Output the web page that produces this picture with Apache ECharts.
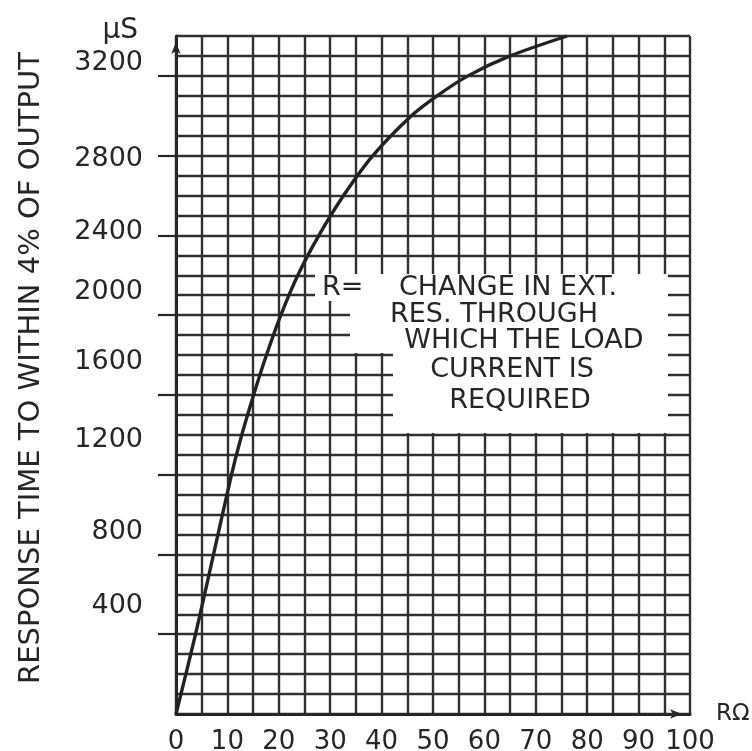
<!DOCTYPE html>
<html><head><meta charset="utf-8">
<script src="https://cdn.jsdelivr.net/npm/echarts@6/dist/echarts.min.js"></script>
<style>html,body{margin:0;padding:0;background:#fff}#c{width:752px;height:751px}</style>
</head><body><div id="c"></div>
<script>
// ---- data ----
const rOhm   = [0, 3.8, 7.3, 10.8, 12.8, 15.1, 17.6, 20.4, 23.7, 27.8, 32.6, 38.3, 45.8, 50.8, 56.8, 65.0, 76.1];
const respUs = [0, 400, 800, 1200, 1400, 1600, 1800, 2000, 2200, 2400, 2600, 2800, 3000, 3100, 3200, 3300, 3400];
const xTickLabels = [0, 10, 20, 30, 40, 50, 60, 70, 80, 90, 100];
const yTickLabels = [400, 800, 1200, 1600, 2000, 2400, 2800, 3200];
const yAxisTitle = 'RESPONSE TIME TO WITHIN 4% OF OUTPUT';
const yUnit = 'µS';
const xUnit = 'RΩ';
const noteLines = ['CHANGE IN EXT.', 'RES. THROUGH', 'WHICH THE LOAD', 'CURRENT IS', 'REQUIRED'];
const notePrefix = 'R=';

// ---- styling ----
const FONT = 'DejaVu Sans';
const INK = '#262626';
const GRIDC = '#303030';
// vertical lift (px) of each y label above its tick, as in the hand-lettered original
const labelLift = {400: 28, 800: 22, 1200: 35, 1600: 33, 2000: 23, 2400: 3, 2800: -3, 3200: 13};
const rich = {};
yTickLabels.forEach(v => {
  const l = labelLift[v] || 0;
  rich['y' + v] = {
    fontFamily: FONT, fontSize: 27, color: INK,
    padding: l >= 0 ? [0, 0, 2 * l, 0] : [-2 * l, 0, 0, 0]
  };
});
const noteFont = '27px "' + FONT + '"';

const chart = echarts.init(document.getElementById('c'), null, {renderer: 'canvas'});
chart.setOption({
  backgroundColor: '#ffffff',
  animation: false,
  grid: {left: 176, right: 62, top: 36, bottom: 37, containLabel: false, outerBoundsMode: 'none'},
  xAxis: {
    type: 'value', min: 0, max: 100, interval: 5,
    name: xUnit, nameLocation: 'end', nameGap: 26,
    nameTextStyle: {fontFamily: FONT, fontSize: 23, color: INK, verticalAlign: 'middle', padding: [0, 0, 22, 0]},
    axisLine: {show: true, lineStyle: {color: INK, width: 3}, symbol: ['none', 'arrow'], symbolSize: [7, 12], symbolOffset: [0, -8]},
    axisTick: {show: false},
    splitLine: {show: true, lineStyle: {color: GRIDC, width: 2.4}},
    axisLabel: {
      customValues: xTickLabels, margin: 15,
      fontFamily: FONT, fontSize: 26, color: INK,
      formatter: v => String(v)
    }
  },
  yAxis: [{
    type: 'value', min: 0, max: 3400, interval: 100,
    name: yUnit, nameLocation: 'end', nameGap: 5,
    nameTextStyle: {fontFamily: FONT, fontSize: 28, color: INK, align: 'right', verticalAlign: 'middle', padding: [0, 38, 0, 0]},
    axisLine: {show: true, lineStyle: {color: INK, width: 3}, symbol: ['none', 'arrow'], symbolSize: [7, 12], symbolOffset: [0, -6]},
    axisTick: {show: true, inside: false, length: 18, customValues: yTickLabels, lineStyle: {color: INK, width: 2.2}},
    splitLine: {show: false},
    axisLabel: {
      customValues: yTickLabels, margin: 33,
      fontFamily: FONT, fontSize: 27, color: INK,
      formatter: v => '{y' + v + '|' + v + '}',
      rich: rich
    }
  }, {
    // same scale, used only to draw the 100 µs grid rulings
    type: 'value', min: 0, max: 3400, interval: 100, position: 'left',
    axisLine: {show: false}, axisTick: {show: false}, axisLabel: {show: false},
    splitLine: {show: true, lineStyle: {color: GRIDC, width: 2.4}}
  }],
  series: [{
    type: 'line',
    data: rOhm.map((x, i) => [x, respUs[i]]),
    smooth: 0.3,
    symbol: 'none',
    lineStyle: {color: '#222', width: 3.4},
    z: 3
  }],
  graphic: [
    {
      type: 'polygon', z: 50,
      shape: {points: [[315, 274], [668, 274], [668, 433], [393, 433], [393, 353], [350, 353], [350, 301], [315, 301]]},
      style: {fill: '#ffffff'}
    },
    {type: 'text', z: 60, x: 322, y: 288,
      style: {text: notePrefix, font: noteFont, fill: INK, textAlign: 'left', textVerticalAlign: 'middle'}},
    {type: 'text', z: 60, x: 508, y: 288,
      style: {text: noteLines[0], font: noteFont, fill: INK, textAlign: 'center', textVerticalAlign: 'middle'}},
    {type: 'text', z: 60, x: 494, y: 315,
      style: {text: noteLines[1], font: noteFont, fill: INK, textAlign: 'center', textVerticalAlign: 'middle'}},
    {type: 'text', z: 60, x: 524, y: 341,
      style: {text: noteLines[2], font: noteFont, fill: INK, textAlign: 'center', textVerticalAlign: 'middle'}},
    {type: 'text', z: 60, x: 512, y: 370,
      style: {text: noteLines[3], font: noteFont, fill: INK, textAlign: 'center', textVerticalAlign: 'middle'}},
    {type: 'text', z: 60, x: 520, y: 401,
      style: {text: noteLines[4], font: noteFont, fill: INK, textAlign: 'center', textVerticalAlign: 'middle'}},
    {type: 'text', z: 60, x: 31, y: 368, rotation: Math.PI / 2,
      style: {text: yAxisTitle, font: '29px "' + FONT + '"', fill: INK, textAlign: 'center', textVerticalAlign: 'middle'}}
  ]
});
</script>
</body></html>
